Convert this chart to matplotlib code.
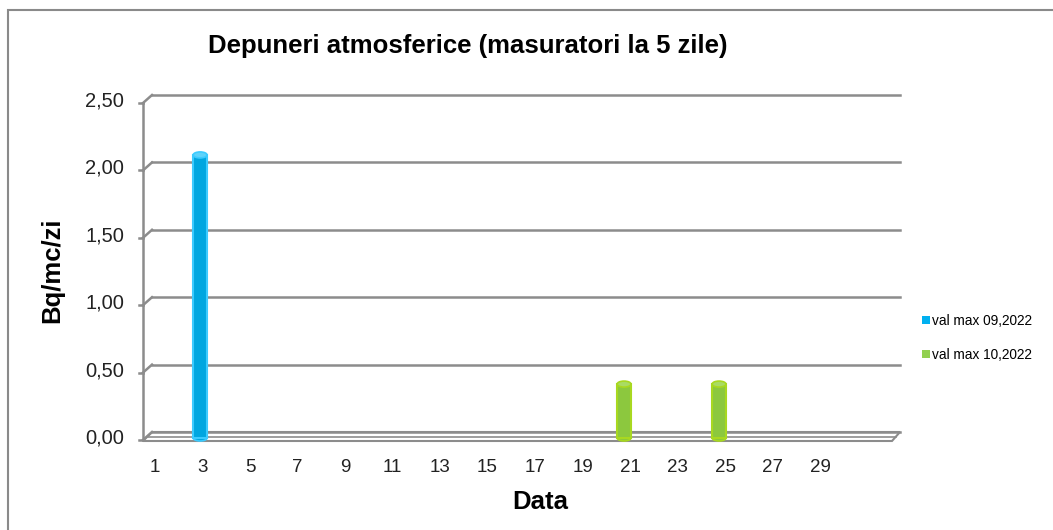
import matplotlib.pyplot as plt
from matplotlib.patches import Ellipse, Patch, Polygon, Rectangle

# data
days = list(range(1, 32))
tick_days = list(range(1, 30, 2))
sep_days = [3]
sep_vals = [2.10]
oct_days = [21, 25]
oct_vals = [0.40]*2
y_ticks = [0.0, 0.5, 1.0, 1.5, 2.0, 2.5]
series_names = ["val max 09,2022", "val max 10,2022"]

W, H = 1053, 530
plt.rcParams["font.family"] = ["Liberation Sans", "DejaVu Sans"]

fig = plt.figure(figsize=(W / 100, H / 100), dpi=100)
# wall area in pixels: x 152..900, y 95 (top) .. 432 (zero)
ax = fig.add_axes([152 / W, (H - 432) / H, (900 - 152) / W, (432 - 95) / H])
px_day = 23.75
x0 = 1 - 3 / px_day
x1 = 1 + 745 / px_day
ax.set_xlim(x0, x1)
ax.set_ylim(0, 2.5)
ax.axis("off")
ypx = 2.5 / 337  # data units per pixel (y)
dx = -9 / px_day  # 3D skew of the left axis
dy = -8 * ypx

grid_c = "#8c8c8c"
for v in y_ticks:
    ax.plot([x0, x1], [v, v], color=grid_c, lw=1.8, clip_on=False, zorder=1)
    ax.plot([x0 + dx, x0], [v + dy, v], color=grid_c, lw=1.8, clip_on=False, zorder=1)
    ax.plot([x0 + dx - 4 / px_day, x0 + dx], [v + dy, v + dy], color=grid_c, lw=1.8, clip_on=False)
    ax.text(x0 + dx - 19 / px_day, v + dy + 2 * ypx, f"{v:.2f}".replace(".", ","),
            ha="right", va="center", fontsize=14.5, color="#222222")
ax.plot([x0 + dx, x0 + dx], [dy, 2.5 + dy], color=grid_c, lw=1.8, clip_on=False)

# floor slab
fdx = -8 / px_day
floor = Polygon([(x0, 0), (x1, 0), (x1 + fdx, -9 * ypx), (x0 + dx, -9 * ypx)],
                closed=True, fill=False, edgecolor=grid_c, lw=1.5, clip_on=False, zorder=2)
ax.add_patch(floor)
ax.plot([x0 + dx / 2, x1 + fdx / 2], [-5 * ypx, -5 * ypx], color=grid_c, lw=1.2, clip_on=False, zorder=2)

bw = 0.58
bot = -6 * ypx


def cylinders(xs, vals, off, face, edge, top):
    for d, v in zip(xs, vals):
        x = d + off
        ax.bar(x, v, width=bw, bottom=bot, color=face, edgecolor=edge, lw=1.5,
               zorder=3, clip_on=False)
        ax.add_patch(Ellipse((x, bot + v), bw, 6 * ypx, facecolor=top,
                             edgecolor=edge, lw=1.2, zorder=4, clip_on=False))
        ax.add_patch(Ellipse((x, bot), bw, 6 * ypx, facecolor=face,
                             edgecolor=edge, lw=1.2, zorder=2.9, clip_on=False))


cylinders(sep_days, sep_vals, -0.1, "#00A6E0", "#3CCBFF", "#5FD3FA")
cylinders(oct_days, oct_vals, -0.25, "#8CC83E", "#A8D820", "#A9DB63")

for d in tick_days:
    ax.text(d, -36 * ypx, str(d), ha="center", va="center", fontsize=13.5, color="#222222")

fig.text(468 / W, 1 - 46 / H, "Depuneri atmosferice (masuratori la 5 zile)",
         ha="center", va="center", fontsize=18.5, fontweight="bold")
fig.text(52 / W, 1 - 270 / H, "Bq/mc/zi", ha="center", va="center", rotation=90,
         fontsize=18.5, fontweight="bold")
fig.text(540 / W, 1 - 502 / H, "Data", ha="center", va="center",
         fontsize=18.5, fontweight="bold")

handles = [Patch(facecolor="#00B0F0", edgecolor="none"),
           Patch(facecolor="#92D050", edgecolor="none")]
fig.legend(handles, series_names, loc="center left", bbox_to_anchor=(910 / W, 1 - 338 / H),
           frameon=False, fontsize=9.8, handlelength=0.55, handleheight=0.55,
           handletextpad=0.15, labelspacing=1.45)

fig.patches.append(Rectangle((8 / W, -0.1), 1.2, 1 - 10 / H + 0.1, transform=fig.transFigure,
                             fill=False, edgecolor="#8a8a8a", lw=1.5))

fig.savefig("out.png", dpi=100)
